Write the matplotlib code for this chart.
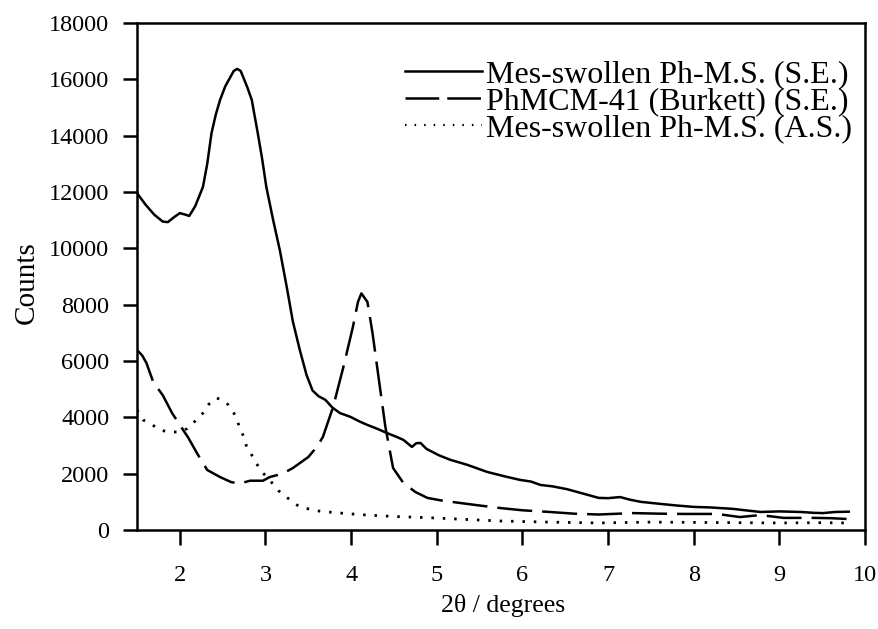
import matplotlib
matplotlib.use('Agg')
import matplotlib.pyplot as plt

plt.rcParams['font.family'] = ['Liberation Serif', 'DejaVu Serif']

# Mes-swollen Ph-M.S. (S.E.)
x_se = [1.50, 1.60, 1.70, 1.80, 1.86, 1.93, 2.00, 2.06, 2.11, 2.18, 2.27, 2.32,
        2.37, 2.42, 2.47, 2.53, 2.59, 2.63, 2.67, 2.71, 2.74, 2.79, 2.84, 2.91,
        2.96, 3.01, 3.09, 3.17, 3.25, 3.32, 3.40, 3.48, 3.55, 3.62, 3.70, 3.78,
        3.87, 3.99, 4.10, 4.19, 4.30, 4.42, 4.52, 4.61, 4.67, 4.71, 4.76, 4.81,
        4.88, 4.95, 5.02, 5.15, 5.36, 5.59, 5.80, 5.97, 6.10, 6.21, 6.35, 6.52,
        6.70, 6.89, 7.00, 7.14, 7.25, 7.38, 7.60, 7.80, 8.00, 8.20, 8.46, 8.60,
        8.78, 9.00, 9.25, 9.40, 9.51, 9.65, 9.81]
y_se = [11960, 11550, 11200, 10950, 10930, 11100, 11250, 11200, 11150, 11500,
        12180, 13000, 14090, 14750, 15270, 15750, 16080, 16300, 16370, 16300,
        16080, 15700, 15270, 14090, 13200, 12180, 11000, 9900, 8600, 7400, 6400,
        5500, 4950, 4750, 4620, 4350, 4150, 4020, 3850, 3730, 3600, 3440, 3320,
        3200, 3050, 2950, 3080, 3090, 2880, 2770, 2660, 2500, 2310, 2060, 1900,
        1780, 1720, 1600, 1550, 1450, 1300, 1140, 1130, 1170, 1080, 1000, 930,
        870, 820, 800, 750, 700, 640, 660, 640, 610, 600, 640, 650]

# PhMCM-41 (Burkett) (S.E.)
x_bk = [1.50, 1.56, 1.61, 1.69, 1.80, 1.91, 2.00, 2.10, 2.20, 2.32, 2.47, 2.60,
        2.70, 2.82, 2.97, 3.05, 3.20, 3.32, 3.50, 3.60, 3.67, 3.79, 3.91, 4.02,
        4.08, 4.12, 4.19, 4.25, 4.32, 4.40, 4.49, 4.61, 4.75, 4.89, 5.05, 5.27,
        5.50, 5.74, 6.00, 6.32, 6.60, 6.89, 7.29, 7.60, 7.88, 8.27, 8.54, 8.78,
        9.05, 9.40, 9.60, 9.80]
y_bk = [6390, 6200, 5930, 5250, 4790, 4150, 3730, 3270, 2730, 2130, 1880, 1700,
        1650, 1750, 1750, 1880, 2000, 2200, 2590, 2950, 3300, 4370, 5790, 7200,
        8100, 8400, 8100, 6990, 5430, 3660, 2200, 1670, 1350, 1140, 1050, 960,
        870, 780, 700, 640, 580, 550, 600, 580, 570, 570, 460, 530, 430, 430,
        420, 390]

# Mes-swollen Ph-M.S. (A.S.)
x_as = [1.50, 1.57, 1.68, 1.77, 1.87, 1.98, 2.08, 2.18, 2.27, 2.34, 2.43, 2.54,
        2.62, 2.67, 2.70, 2.75, 2.78, 2.84, 2.89, 2.97, 3.02, 3.15, 3.32, 3.40,
        3.60, 3.80, 4.00, 4.19, 4.50, 4.96, 5.30, 5.74, 6.30, 6.89, 7.50, 8.00,
        8.50, 9.00, 9.50, 9.80]
y_as = [4260, 3910, 3730, 3550, 3480, 3480, 3590, 3870, 4150, 4470, 4690, 4540,
        4220, 3910, 3590, 3300, 2950, 2660, 2380, 2020, 1880, 1400, 990, 820,
        680, 620, 570, 530, 480, 430, 380, 320, 280, 250, 280, 270, 260, 250,
        260, 250]

labels = ['Mes-swollen Ph-M.S. (S.E.)', 'PhMCM-41 (Burkett) (S.E.)',
          'Mes-swollen Ph-M.S. (A.S.)']
xticks = [2, 3, 4, 5, 6, 7, 8, 9, 10]
yticks = list(range(0, 18001, 2000))

W, H = 879, 629
fig = plt.figure(figsize=(W / 100, H / 100), dpi=100)
ax = fig.add_axes([137 / W, 1 - 530 / H, (865 - 137) / W, (530 - 23) / H])

ax.plot(x_se, y_se, color='black', lw=1.8, label=labels[0])
ax.plot(x_bk, y_bk, color='black', lw=1.8, linestyle=(0, (14, 4)), label=labels[1])
ax.plot(x_as, y_as, color='black', lw=2.0, linestyle=(0, (0.9, 3.2)), label=labels[2])

ax.set_xlim(1.5, 10)
ax.set_ylim(0, 18000)
ax.set_xticks(xticks)
ax.set_yticks(yticks)
ax.tick_params(axis='x', direction='out', length=11, width=1.8, pad=14, labelsize=17.5)
ax.tick_params(axis='y', direction='out', length=10, width=1.8, pad=10, labelsize=17.5)
for s in ax.spines.values():
    s.set_linewidth(1.8)

ax.set_xlabel('2θ / degrees', fontsize=18.5)
ax.set_ylabel('Counts', fontsize=21)
ax.xaxis.set_label_coords((503 - 137) / 728, (530 - 594) / 507)
ax.yaxis.set_label_coords((40 - 137) / 728, (530 - 283) / 507)

leg = ax.legend(loc='upper left', bbox_to_anchor=(405 / W, 1 - 60 / H),
                bbox_transform=fig.transFigure, frameon=False, fontsize=23,
                handlelength=2.4, handletextpad=0.15, labelspacing=-0.08,
                borderpad=0, borderaxespad=0)
# two-dash sample in the legend, as in the original
leg.get_lines()[1].set_linestyle((0, (13.5, 3.2)))
leg.get_lines()[2].set_linestyle((0, (0.7, 3.6)))
leg.get_lines()[2].set_linewidth(1.6)

fig.savefig('out.png', dpi=100)
